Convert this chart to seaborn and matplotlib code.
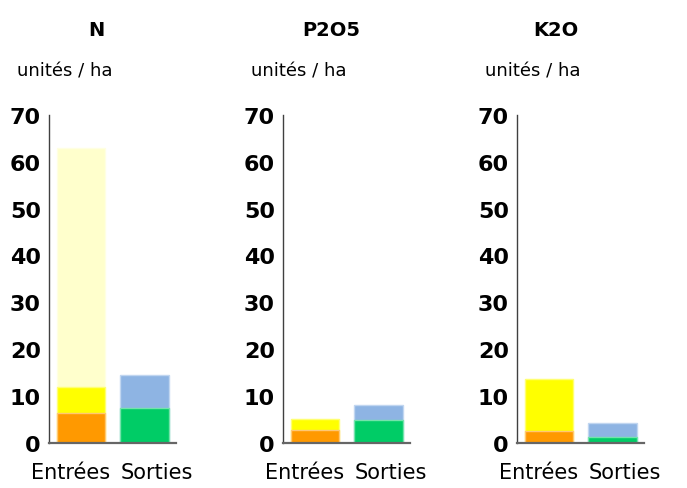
import numpy as np
import pandas as pd
import seaborn as sns
import matplotlib.pyplot as plt
import matplotlib.colors as mcolors

# values in unités / ha, one entry per nutrient
nutrients = ["N", "P2O5", "K2O"]
fluxes = ["Entrées", "Sorties"]
entrees_orange = [6.5, 2.8, 2.5]
entrees_yellow = [5.5, 2.3, 11.1]
entrees_pale = [51.0, 0.0, 0.0]
sorties_green = [7.4, 5.0, 1.35]
sorties_blue = [7.0, 3.1, 2.95]

ORANGE = "#FF9900"
YELLOW = "#FFFF00"
PALE = "#FFFFCC"
GREEN = "#00CC66"
BLUE = "#8EB4E3"


def lighten(color, amount=0.45):
    rgb = np.array(mcolors.to_rgb(color))
    return tuple(rgb + (1 - rgb) * amount)


sns.set_style("white")
plt.rcParams['font.family'] = ['DejaVu Sans']
plt.rcParams['text.color'] = 'black'
plt.rcParams['xtick.color'] = 'black'
plt.rcParams['ytick.color'] = 'black'

W, H = 687, 489
fig = plt.figure(figsize=(W / 100, H / 100), dpi=100)

ax_lefts = [49.3, 283.3, 517.3]
title_x = [96, 331, 556]
ax_w, ax_top, ax_bottom = 127, 115.7, 444

for i, name in enumerate(nutrients):
    ax = fig.add_axes([ax_lefts[i] / W, (H - ax_bottom) / H, ax_w / W, (ax_bottom - ax_top) / H])

    stacks = [
        ("Entrées", [entrees_orange[i], entrees_yellow[i], entrees_pale[i]], [ORANGE, YELLOW, PALE]),
        ("Sorties", [sorties_green[i], sorties_blue[i]], [GREEN, BLUE]),
    ]
    for flux, layers, colors in stacks:
        tops = np.cumsum(layers)
        # draw from the tallest cumulative bar down so lower layers sit on top
        for top, color in reversed(list(zip(tops, colors))):
            df = pd.DataFrame({"flux": [flux], "value": [top]})
            sns.barplot(data=df, x="flux", y="value", order=fluxes, color=color,
                        saturation=1, width=0.76, edgecolor=lighten(color),
                        linewidth=1, ax=ax)

    ax.set_xlim(-0.5, 1.5)
    ax.set_ylim(0, 70)
    ax.set_yticks(range(0, 71, 10))
    ax.set_xlabel("")
    ax.set_ylabel("")
    for side in ["top", "right"]:
        ax.spines[side].set_visible(False)
    ax.spines["left"].set_color("#404040")
    ax.spines["left"].set_linewidth(1)
    ax.spines["bottom"].set_color("#666666")
    ax.spines["bottom"].set_linewidth(1.6)

    ax.tick_params(axis="y", direction="in", length=4, width=1, labelsize=16, pad=6)
    for lab in ax.get_yticklabels():
        lab.set_fontweight("bold")
    # labels sit a little apart from the bar centres, as in the original
    ax.set_xticks([-0.16, 1.2])
    ax.set_xticklabels(fluxes)
    ax.tick_params(axis="x", length=0, labelsize=15, pad=14)
    ax.set_xticks([-0.5, 0.5, 1.5], minor=True)
    ax.tick_params(axis="x", which="minor", direction="in", length=4, width=1)

    fig.text(title_x[i] / W, 1 - 30 / H, name, ha="center", va="center",
             fontsize=14, fontweight="bold")
    fig.text((ax_lefts[i] - 32) / W, 1 - 71 / H, "unités / ha", ha="left", va="center",
             fontsize=13)

fig.savefig("out.png", dpi=100)
